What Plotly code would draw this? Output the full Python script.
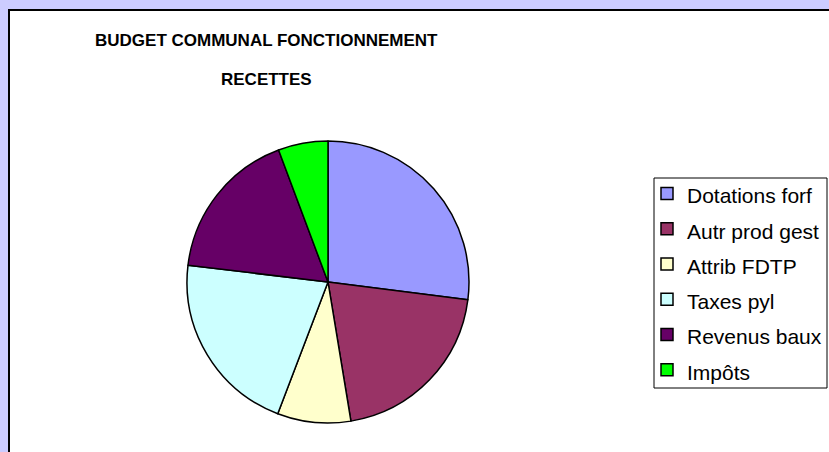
import plotly.graph_objects as go

W, H = 829, 452

labels = ["Dotations forf", "Autr prod gest", "Attrib FDTP", "Taxes pyl", "Revenus baux", "Impôts"]
values = [27.0, 20.4, 8.4, 21.1, 17.4, 5.7]
colors = ["#9999FF", "#993366", "#FFFFCC", "#CCFFFF", "#660066", "#00FF00"]
title_lines = ["BUDGET COMMUNAL FONCTIONNEMENT", "RECETTES"]

cx, cy, r = 328, 282, 141

legend_labels = ["<span style='font-size:21px'>%s</span>" % l for l in labels]

fig = go.Figure(go.Pie(
    labels=legend_labels,
    values=values,
    marker=dict(colors=colors, line=dict(color="black", width=1.5)),
    sort=False,
    direction="clockwise",
    rotation=0,
    textinfo="none",
    hoverinfo="percent",
    domain=dict(x=[(cx - r) / W, (cx + r) / W], y=[1 - (cy + r) / H, 1 - (cy - r) / H]),
))

# chart area panel
fig.add_shape(type="rect", xref="paper", yref="paper",
              x0=9 / W, x1=1.01, y0=-0.01, y1=1 - 10 / H,
              line=dict(color="black", width=2), fillcolor="white", layer="below")
# legend frame
fig.add_shape(type="rect", xref="paper", yref="paper",
              x0=654 / W, x1=827 / W, y0=1 - 388 / H, y1=1 - 178 / H,
              line=dict(color="black", width=1), fillcolor="white", layer="below")

for txt, ypx in zip(title_lines, [40, 79]):
    fig.add_annotation(text="<b>%s</b>" % txt, x=266 / W, y=1 - ypx / H,
                       xref="paper", yref="paper", showarrow=False,
                       xanchor="center", yanchor="middle",
                       font=dict(family="Liberation Sans, Arial", size=17, color="black"))

fig.update_layout(
    width=W, height=H,
    margin=dict(l=0, r=0, t=0, b=0),
    paper_bgcolor="#CCCCFF",
    plot_bgcolor="white",
    showlegend=True,
    legend=dict(x=647 / W, y=1 - 171 / H, xanchor="left", yanchor="top",
                bgcolor="rgba(0,0,0,0)", borderwidth=0,
                font=dict(family="Liberation Sans, Arial", size=24.8, color="black"),
                traceorder="normal"),
)

fig.write_html("out.html", config={"displayModeBar": False},
               post_script="document.body.style.margin='0px';")
